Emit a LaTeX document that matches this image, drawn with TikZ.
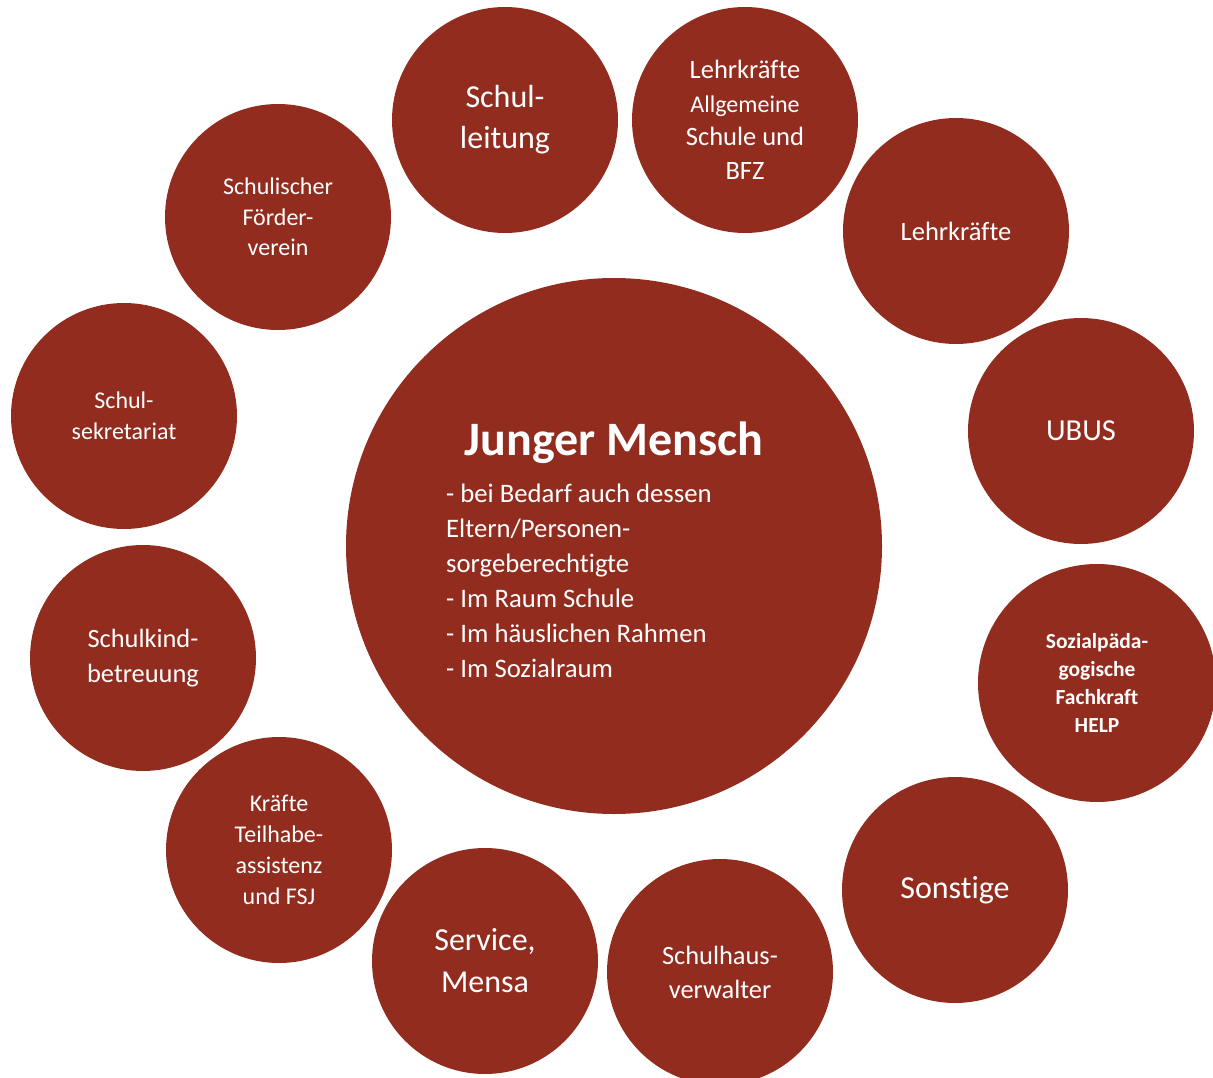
\documentclass[tikz,border=0pt]{standalone}
\usepackage{fontspec}
\setmainfont[Ligatures=NoCommon]{Carlito}
\definecolor{dred}{HTML}{922C1F}
\newcommand{\fs}[2]{\fontsize{#1}{#2}\selectfont}
\tikzset{
  bub/.style={circle, fill=dred, text=white, inner sep=0pt, align=center, minimum size=226pt},
  txt/.style={text=white, inner sep=0pt}
}
\begin{document}
\begin{tikzpicture}[x=1pt, y=-1pt]
\useasboundingbox (0,0) rectangle (1213,1078);
\clip (0,0) rectangle (1213,1078);

% central circle
\node[bub, minimum size=536pt] (center) at (614,546) {};
\node[txt, font=\fs{48}{56}\bfseries] (title) at (614,443) {Junger Mensch};
\node[txt, align=left, anchor=base west, font=\fs{26.7}{35}] (body) at (446,677)
  {- bei Bedarf auch dessen\\
   Eltern/Personen-\\
   sorgeberechtigte\\
   - Im Raum Schule\\
   - Im häuslichen Rahmen\\
   - Im Sozialraum};

% surrounding circles
\node[bub, font=\fs{32}{41}] (leitung) at (505,120) {Schul-\\leitung};
\node[bub, font=\fs{26.5}{33.6}] (allg) at (745,120)
  {Lehrkräfte\\{\fs{24}{33.6}Allgemeine}\\Schule und\\BFZ};
\node[bub, font=\fs{26.5}{30}] (lehr) at (956,231) {Lehrkräfte};
\node[bub, font=\fs{30.5}{34}] (ubus) at (1081,431) {UBUS};
\node[bub, minimum size=238pt, font=\fs{21.5}{27.7}\bfseries] (help) at (1097,683)
  {Sozialpäda-\\gogische\\Fachkraft\\HELP};
\node[bub, font=\fs{32}{36}] (sonst) at (955,890) {Sonstige};
\node[bub, font=\fs{26.4}{34}] (haus) at (720,972) {Schulhaus-\\verwalter};
\node[bub, font=\fs{32}{42}] (mensa) at (485,961) {Service,\\Mensa};
\node[bub, font=\fs{24}{31}] (teil) at (279,850) {Kräfte\\Teilhabe-\\assistenz\\und FSJ};
\node[bub, font=\fs{26.4}{35}] (kind) at (143,658) {Schulkind-\\betreuung};
\node[bub, font=\fs{24}{31}] (sekr) at (124,416) {Schul-\\sekretariat};
\node[bub, font=\fs{24}{30.5}] (verein) at (278,217) {Schulischer\\Förder-\\verein};
\end{tikzpicture}
\end{document}
